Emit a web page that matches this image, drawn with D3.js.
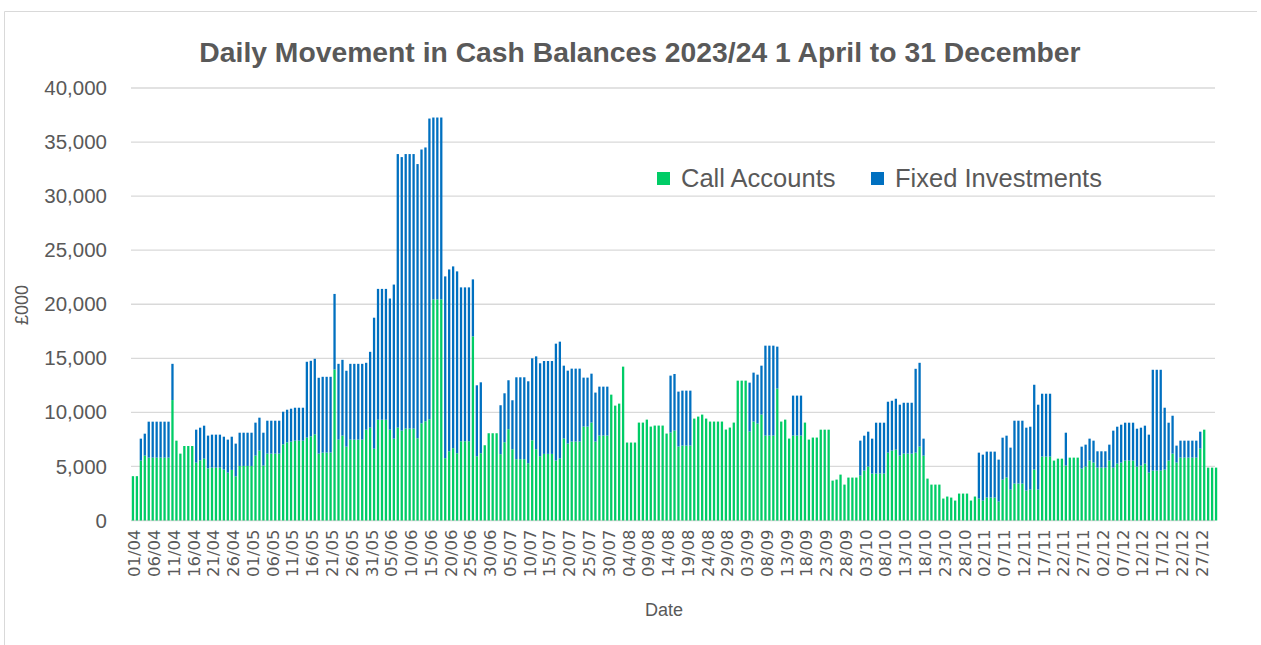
<!DOCTYPE html>
<html>
<head>
<meta charset="utf-8">
<script src="https://cdn.jsdelivr.net/npm/d3@7"></script>
<style>
  body { margin: 0; background: #fff; }
  text { fill: #595959; }
</style>
</head>
<body>
<script>
// £000, one value per day, 1 April to 31 December 2023
const callApr = [4100,4100,5540,6000,5815,5815,5815,5815,5815,5815,11140,7385,6185,6890,6890,6890,5350,5570,5720,4830,4890,4890,4890,4710,4430,4680,4090,5045,5045,5045];
const fixedApr = [0,0,2030,2030,3325,3325,3325,3325,3325,3325,3350,0,0,0,0,0,3050,3015,3050,3020,3050,3050,3050,3040,3050,3070,3020,3075,3075,3075];
const callMay = [5045,6000,6460,5080,6185,6185,6185,6185,7045,7230,7290,7385,7385,7385,7660,7785,7970,6185,6280,6280,6280,13970,7480,7850,6830,7480,7480,7480,7480,8400,8585];
const fixedMay = [3075,3050,3050,3040,3045,3045,3045,3045,3015,3015,3050,3045,3045,3045,7020,6985,6985,7015,7010,7010,7010,6985,7010,7010,7020,7010,7010,7010,7010,6185,7015];
const callJun = [6645,9320,9320,9320,8400,7570,8585,8310,8500,8500,8500,7610,8990,9180,9365,20450,20450,20450,5760,6400,6685,6220,7330,7330,7330,17030,5945,6220,6960,8070];
const fixedJun = [12110,12100,12100,12100,12130,14250,25305,25300,25390,25390,25390,25355,25320,25320,27810,16820,16820,16820,16815,16820,16815,16820,14230,14230,14230,5270,6560,6560,0,0];
const callJul = [8070,8070,6130,7240,8440,6590,5670,5670,5670,5300,7420,6590,5945,6160,6160,6160,5545,5730,7580,7115,7300,7300,7300,8685,8685,9055,7300,7855,7855,7855,11640];
const fixedJul = [0,0,4530,4525,4530,4530,7575,7575,7575,7575,7580,8590,8595,8590,8590,8590,10810,10810,6740,6745,6745,6745,6745,4528,4528,4525,4530,4525,4525,4525,0];
const callAug = [10625,10810,14230,7210,7210,7210,9055,9055,9330,8685,8780,8780,8780,8040,8130,8315,6840,6930,6930,6930,9425,9610,9795,9425,9150,9150,9150,9150,8410,8595,9055];
const fixedAug = [0,0,0,0,0,0,0,0,0,0,0,0,0,0,5270,5235,5080,5080,5080,5080,0,0,0,0,0,0,0,0,0,0,0];
const callSep = [12935,12935,12935,8225,9150,8965,9795,7855,7855,7855,12200,9150,9330,7577,7855,7855,7855,9055,7485,7670,7670,8400,8400,8400,3690,3785,4245,3320,3970,3970];
const fixedSep = [0,0,0,4525,4525,4525,4525,8315,8315,8315,3880,0,0,0,3695,3695,3695,0,0,0,0,0,0,0,0,0,0,0,0,0];
const callOct = [3970,4155,4615,4985,4340,4340,4340,4340,6275,6460,6555,6000,6185,6185,6185,6275,6830,6000,3875,3320,3320,3320,2030,2215,2120,1845,2490,2490,2490,1845,2215];
const fixedOct = [0,3230,3230,3230,3230,4705,4705,4705,4710,4615,4705,4710,4705,4705,4705,7755,7755,1570,0,0,0,0,0,0,0,0,0,0,0,0,0];
const callNov = [2030,1845,2120,2120,2120,1755,3785,3970,2860,3415,3415,3415,2770,2860,4710,2860,5910,5910,5910,5540,5720,5720,5080,5815,5815,5815,4800,4985,5540,5355];
const fixedNov = [4245,4245,4250,4250,4250,3875,3875,3875,3880,5815,5815,5815,5815,5815,7845,7850,5815,5815,5815,0,0,0,3040,0,0,0,2030,2030,2030,2030];
const callDec = [4890,4890,4890,5540,4890,5260,5355,5540,5540,5540,4985,5080,5260,4430,4615,4615,4615,4710,5540,6185,5355,5815,5815,5815,5815,5815,6645,8400,4890,4890,4890];
const fixedDec = [1510,1510,1510,1475,3420,3415,3505,3505,3505,3505,3505,3505,3510,3510,9325,9325,9325,5720,3505,3505,1570,1570,1570,1570,1570,1570,1570,0,0,0,0];

const callAccounts = [].concat(callApr, callMay, callJun, callJul, callAug, callSep, callOct, callNov, callDec);
const fixedInvestments = [].concat(fixedApr, fixedMay, fixedJun, fixedJul, fixedAug, fixedSep, fixedOct, fixedNov, fixedDec);
const days = d3.timeDay.range(new Date(2023, 3, 1), new Date(2024, 0, 1));
const yTicks = [0, 5000, 10000, 15000, 20000, 25000, 30000, 35000, 40000];
const seriesNames = ["Call Accounts", "Fixed Investments"];
const colors = ["#00cc66", "#0070c0"];

const width = 1261, height = 645,
    plotLeft = 131, plotRight = 1218, plotTop = 88, plotBottom = 520.5,
    font = "'Liberation Sans', Arial, sans-serif";

const rows = days.map((d, i) => ({ date: d, call: callAccounts[i], fixed: fixedInvestments[i] }));

const svg = d3.select("body").append("svg")
    .attr("width", width)
    .attr("height", height)
    .style("font-family", font);

svg.append("path")
    .attr("d", "M4.5,700V11.5H1257")
    .attr("fill", "none")
    .attr("stroke", "#d9d9d9")
    .attr("stroke-width", 1);

const x = d3.scaleBand()
    .domain(days)
    .range([plotLeft, plotRight])
    .paddingInner(0.42)
    .paddingOuter(0.2);

const y = d3.scaleLinear()
    .domain([0, 40000])
    .range([plotBottom, plotTop]);

// gridlines
svg.append("g")
    .selectAll("line")
    .data(yTicks)
    .join("line")
    .attr("x1", plotLeft)
    .attr("x2", 1215)
    .attr("y1", d => y(d))
    .attr("y2", d => y(d))
    .attr("stroke", "#d9d9d9")
    .attr("stroke-width", 1.3);

const stacked = d3.stack().keys(["call", "fixed"])(rows);

svg.append("g")
    .selectAll("g")
    .data(stacked)
    .join("g")
    .attr("fill", (d, i) => colors[i])
    .selectAll("rect")
    .data(d => d)
    .join("rect")
    .attr("x", d => x(d.data.date))
    .attr("width", x.bandwidth())
    .attr("y", d => y(d[1]))
    .attr("height", d => y(d[0]) - y(d[1]));

// y axis
const yAxis = svg.append("g")
    .attr("transform", `translate(${plotLeft},0)`)
    .call(d3.axisLeft(y).tickValues(yTicks).tickFormat(d3.format(",d")).tickSize(0).tickPadding(24));
yAxis.select(".domain").remove();
yAxis.selectAll("text")
    .style("font-size", "20.5px")
    .style("font-family", font)
    .attr("fill", "#595959");

// x axis
const xAxis = svg.append("g")
    .attr("transform", `translate(0,${plotBottom})`)
    .call(d3.axisBottom(x).tickValues(days.filter((d, i) => i % 5 === 0)).tickFormat(d3.timeFormat("%d/%m")).tickSize(0));
xAxis.select(".domain").remove();
xAxis.selectAll("text")
    .attr("transform", "rotate(-90)")
    .attr("x", -9)
    .attr("y", 0)
    .attr("dy", "0.45em")
    .attr("text-anchor", "end")
    .attr("fill", "#595959")
    .style("font-family", "'DejaVu Sans', sans-serif")
    .style("font-size", "16.5px");

// titles
svg.append("text")
    .attr("x", 640)
    .attr("y", 62)
    .attr("text-anchor", "middle")
    .style("font-size", "28.3px")
    .style("font-weight", "bold")
    .text("Daily Movement in Cash Balances 2023/24 1 April to 31 December");

svg.append("text")
    .attr("x", 664)
    .attr("y", 616)
    .attr("text-anchor", "middle")
    .style("font-size", "18px")
    .text("Date");

svg.append("text")
    .attr("transform", "translate(28,305) rotate(-90)")
    .attr("text-anchor", "middle")
    .style("font-size", "18px")
    .text("£000");

// legend
const legendX = [657, 871];
const legend = svg.append("g")
    .selectAll("g")
    .data(seriesNames)
    .join("g")
    .attr("transform", (d, i) => `translate(${legendX[i]},172)`);
legend.append("rect")
    .attr("width", 13)
    .attr("height", 13)
    .attr("fill", (d, i) => colors[i]);
legend.append("text")
    .attr("x", 24)
    .attr("y", 14.5)
    .style("font-size", "25.5px")
    .text(d => d);
</script>
</body>
</html>
